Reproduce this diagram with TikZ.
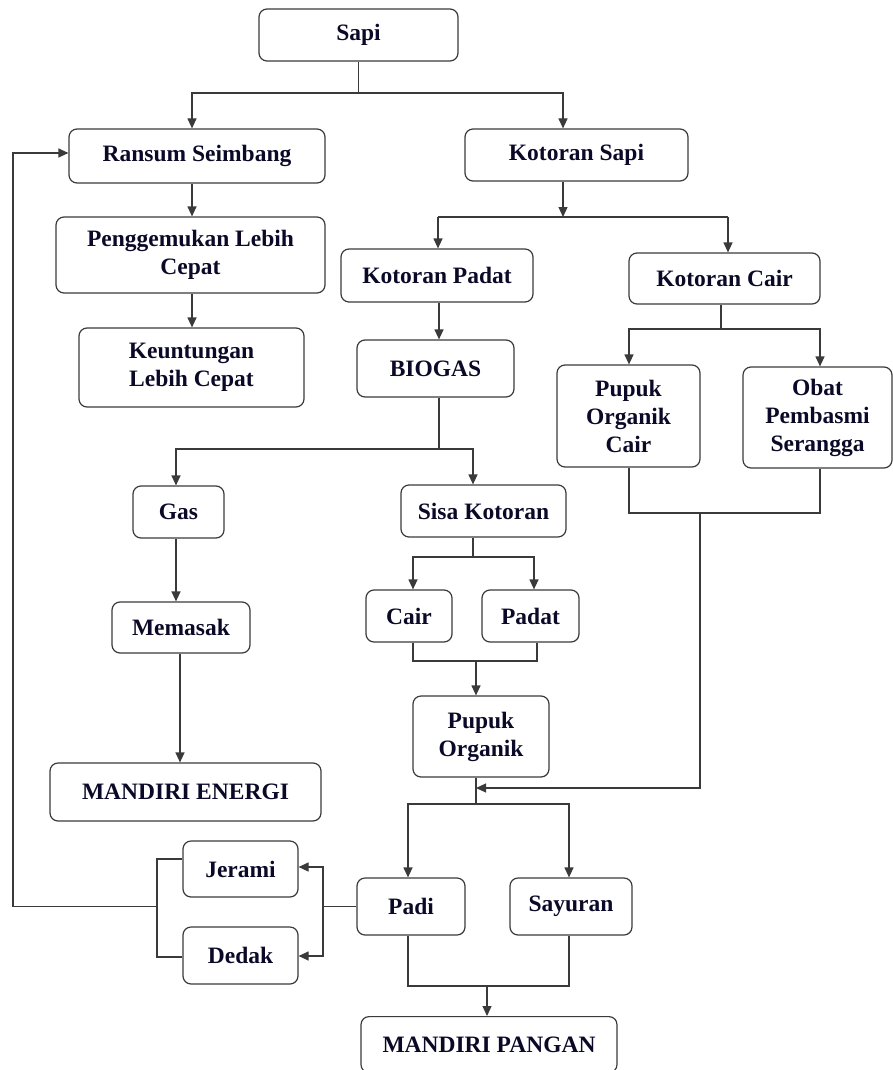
\documentclass[tikz,border=0pt]{standalone}
\usepackage{fontspec}
\setmainfont{Liberation Serif}
\usetikzlibrary{arrows.meta}
\definecolor{linec}{HTML}{3A3A3A}
\definecolor{txt}{HTML}{0A0A28}
\begin{document}
\begin{tikzpicture}[x=1pt,y=-1pt,
  box/.style={draw=linec, rounded corners=8pt, line width=1.2pt, align=center, inner sep=0pt,
    font=\bfseries\fontsize{23.5}{28}\selectfont, text=txt},
  conn/.style={draw=linec, line width=1.2pt},
  arr/.style={conn, -{Triangle[length=10pt,width=9pt]}}]
\useasboundingbox (0,0) rectangle (893,1070);
\clip (0,0) rectangle (893,1070);
% nodes
\node[box, minimum width=199pt, minimum height=52pt] (sapi) at (358.5,35) {Sapi};
\node[box, minimum width=256pt, minimum height=54pt] (ransum) at (197,156) {Ransum Seimbang};
\node[box, minimum width=269pt, minimum height=76pt] (peng) at (190.5,255) {Penggemukan Lebih\\Cepat};
\node[box, minimum width=225pt, minimum height=79pt] (keun) at (191.5,367.5) {Keuntungan\\Lebih Cepat};
\node[box, minimum width=223pt, minimum height=52pt] (ksapi) at (576.5,155) {Kotoran Sapi};
\node[box, minimum width=192pt, minimum height=53pt] (kpadat) at (437,275.5) {Kotoran Padat};
\node[box, minimum width=191pt, minimum height=51pt] (kcair) at (724.5,278.5) {Kotoran Cair};
\node[box, minimum width=157pt, minimum height=57pt] (biogas) at (435.5,368.5) {BIOGAS};
\node[box, minimum width=143pt, minimum height=102pt] (poc) at (628.5,416) {Pupuk\\Organik\\Cair};
\node[box, minimum width=149pt, minimum height=101pt] (obat) at (817.5,417.5) {Obat\\Pembasmi\\Serangga};
\node[box, minimum width=91pt, minimum height=52pt] (gas) at (178.5,512) {Gas};
\node[box, minimum width=165pt, minimum height=52pt] (sisa) at (483.5,511) {Sisa Kotoran};
\node[box, minimum width=138pt, minimum height=51pt] (memasak) at (181,627.5) {Memasak};
\node[box, minimum width=86pt, minimum height=52pt] (cair) at (409,616) {Cair};
\node[box, minimum width=97pt, minimum height=52pt] (padat) at (530.5,616) {Padat};
\node[box, minimum width=136pt, minimum height=81pt] (po) at (481,736.5) {Pupuk\\Organik};
\node[box, minimum width=271pt, minimum height=58pt] (menergi) at (185.5,792) {MANDIRI ENERGI};
\node[box, minimum width=115pt, minimum height=56pt] (jerami) at (240.5,869) {Jerami};
\node[box, minimum width=115pt, minimum height=57pt] (dedak) at (240.5,955.5) {Dedak};
\node[box, minimum width=108pt, minimum height=57pt] (padi) at (411,906.5) {Padi};
\node[box, minimum width=122pt, minimum height=57pt] (sayuran) at (571,906.5) {Sayuran};
\node[box, minimum width=256pt, minimum height=56pt, anchor=north] (mpangan) at (489,1016) {MANDIRI PANGAN};
% junction coordinates
\coordinate (a1) at (358.5,93);
\coordinate (a2) at (192,93);
\coordinate (a3) at (563,93);
\coordinate (xr) at (192,0);
\coordinate (b1) at (563,217);
\coordinate (b2) at (438,217);
\coordinate (b3) at (728,217);
\coordinate (xkp) at (439,0);
\coordinate (c1) at (439,449);
\coordinate (c2) at (176,449);
\coordinate (c3) at (473,449);
\coordinate (xm) at (180,0);
\coordinate (d1) at (473,557);
\coordinate (d2) at (413,557);
\coordinate (d3) at (534,557);
\coordinate (e1) at (413,661);
\coordinate (e2) at (537,661);
\coordinate (e3) at (476,661);
\coordinate (f1) at (721,329);
\coordinate (f2) at (629,329);
\coordinate (f3) at (820,329);
\coordinate (g1) at (629,513);
\coordinate (g2) at (820,513);
\coordinate (g3) at (700,513);
\coordinate (g4) at (700,788);
\coordinate (g5) at (476,788);
\coordinate (h1) at (476,804);
\coordinate (h2) at (408,804);
\coordinate (h3) at (569,804);
\coordinate (i1) at (408,986);
\coordinate (i2) at (569,986);
\coordinate (i3) at (487,986);
\coordinate (k1) at (323,906.5);
\coordinate (k2) at (323,867);
\coordinate (k3) at (323,956);
\coordinate (m1) at (157,859);
\coordinate (m2) at (157,957);
\coordinate (m3) at (157,906.5);
\coordinate (m4) at (13,906.5);
\coordinate (m5) at (13,153);
% connectors
\draw[conn] (sapi.south) -- (a1);
\draw[arr] (a1) -| (a2) -- (a2 |- ransum.north);
\draw[arr] (a1) -| (a3) -- (a3 |- ksapi.north);
\draw[arr] (xr |- ransum.south) -- (xr |- peng.north);
\draw[arr] (xr |- peng.south) -- (xr |- keun.north);
\draw[arr] (b1 |- ksapi.south) -- (b1);
\draw[arr] (b2) -- (b2 |- kpadat.north);
\draw[arr] (b3) -- (b3 |- kcair.north);
\draw[conn] (b2) -- (b3);
\draw[arr] (xkp |- kpadat.south) -- (xkp |- biogas.north);
\draw[conn] (c1 |- biogas.south) -- (c1);
\draw[arr] (c1) -- (c2) -- (c2 |- gas.north);
\draw[arr] (c1) -- (c3) -- (c3 |- sisa.north);
\draw[arr] (c2 |- gas.south) -- (c2 |- memasak.north);
\draw[arr] (xm |- memasak.south) -- (xm |- menergi.north);
\draw[conn] (d1 |- sisa.south) -- (d1);
\draw[arr] (d1) -- (d2) -- (d2 |- cair.north);
\draw[arr] (d1) -- (d3) -- (d3 |- padat.north);
\draw[conn] (e1 |- cair.south) -- (e1) -- (e2) -- (e2 |- padat.south);
\draw[arr] (e3) -- (e3 |- po.north);
\draw[conn] (f1 |- kcair.south) -- (f1);
\draw[arr] (f1) -- (f2) -- (f2 |- poc.north);
\draw[arr] (f1) -- (f3) -- (f3 |- obat.north);
\draw[conn] (g1 |- poc.south) -- (g1) -- (g2) -- (g2 |- obat.south);
\draw[arr] (g3) -- (g4) -- (g5);
\draw[conn] (h1 |- po.south) -- (h1);
\draw[arr] (h1) -- (h2) -- (h2 |- padi.north);
\draw[arr] (h1) -- (h3) -- (h3 |- sayuran.north);
\draw[conn] (i1 |- padi.south) -- (i1) -- (i2) -- (i2 |- sayuran.south);
\draw[arr] (i3) -- (i3 |- mpangan.north);
\draw[conn] (padi.west) -- (k1);
\draw[arr] (k1) -- (k2) -- (k2 -| jerami.east);
\draw[arr] (k1) -- (k3) -- (k3 -| dedak.east);
\draw[conn] (m1 -| jerami.west) -- (m1) -- (m2) -- (m2 -| dedak.west);
\draw[arr] (m3) -- (m4) -- (m5) -- (m5 -| ransum.west);
\end{tikzpicture}
\end{document}
